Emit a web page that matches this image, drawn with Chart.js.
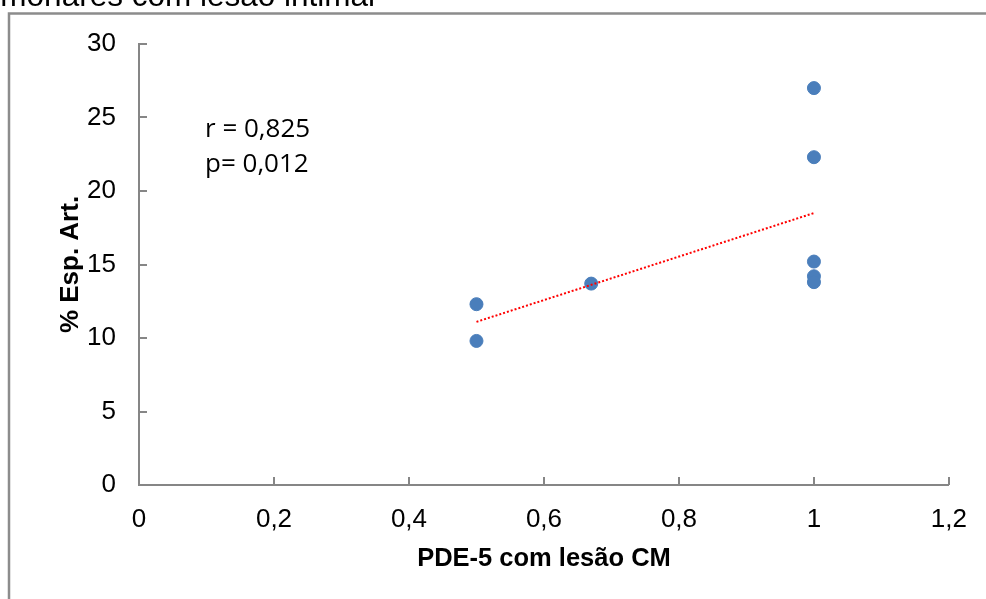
<!DOCTYPE html>
<html>
<head>
<meta charset="utf-8">
<script src="https://cdn.jsdelivr.net/npm/chart.js@4"></script>
<style>
html,body{margin:0;padding:0;background:#fff;}
#wrap{width:986px;height:599px;position:relative;}
</style>
</head>
<body>
<div id="wrap"><canvas id="c" width="986" height="599"></canvas></div>
<script>
const xValues = [0.5, 0.5, 0.67, 1, 1, 1, 1, 1];
const yValues = [12.3, 9.8, 13.7, 27.0, 22.3, 15.2, 14.2, 13.8];
const trendX = [0.5, 1];
const trendY = [11.1, 18.5];
const xTickLabels = ['0', '0,2', '0,4', '0,6', '0,8', '1', '1,2'];
const yTickLabels = ['0', '5', '10', '15', '20', '25', '30'];
const xTitle = 'PDE-5 com lesão CM';
const yTitle = '% Esp. Art.';
const annotLines = ['r = 0,825', 'p= 0,012'];
const headerText = 'monares com lesão intimal';

const AXIS = '#868686';

const decor = {
  id: 'decor',
  beforeDraw(chart) {
    const ctx = chart.ctx;
    ctx.save();
    ctx.fillStyle = '#fff';
    ctx.fillRect(0, 0, chart.width, chart.height);
    // outer frame
    ctx.strokeStyle = '#8c8c8c';
    ctx.lineWidth = 2.5;
    ctx.beginPath();
    ctx.moveTo(9, 700);
    ctx.lineTo(9, 13.5);
    ctx.lineTo(1100, 13.5);
    ctx.stroke();
    // cut-off header text
    ctx.fillStyle = '#000';
    ctx.font = '31.5px "Liberation Sans", Arial, sans-serif';
    ctx.textAlign = 'right';
    ctx.textBaseline = 'alphabetic';
    ctx.fillText(headerText, 375, 6);
    ctx.restore();
  },
  afterDatasetsDraw(chart) {
    const ctx = chart.ctx;
    const xs = chart.scales.x, ys = chart.scales.y;
    ctx.save();
    ctx.strokeStyle = AXIS;
    ctx.lineWidth = 2;
    const x0 = xs.getPixelForValue(0);
    const y0 = ys.getPixelForValue(0);
    ctx.beginPath();
    ys.ticks.forEach(t => {
      const py = Math.round(ys.getPixelForValue(t.value));
      ctx.moveTo(x0, py);
      ctx.lineTo(x0 + 8, py);
    });
    xs.ticks.forEach(t => {
      const px = Math.round(xs.getPixelForValue(t.value));
      ctx.moveTo(px, y0);
      ctx.lineTo(px, y0 - 8);
    });
    ctx.stroke();
    // annotation text
    ctx.fillStyle = '#000';
    ctx.font = '26px "Open Sans", Calibri, Carlito, sans-serif';
    ctx.textAlign = 'left';
    ctx.textBaseline = 'alphabetic';
    ctx.fillText(annotLines[0], 205, 137);
    ctx.fillText(annotLines[1], 205, 172);
    ctx.restore();
  }
};

new Chart(document.getElementById('c'), {
  type: 'scatter',
  data: {
    datasets: [
      {
        label: 'pontos',
        data: xValues.map((x, i) => ({x: x, y: yValues[i]})),
        backgroundColor: '#4A7EBB',
        borderColor: '#4A7EBB',
        pointRadius: 6.5,
        pointHoverRadius: 6.5,
        order: 1
      },
      {
        label: 'tendência',
        type: 'line',
        data: trendX.map((x, i) => ({x: x, y: trendY[i]})),
        borderColor: '#FF0000',
        borderWidth: 2,
        borderDash: [2, 2],
        pointRadius: 0,
        fill: false,
        order: 0
      }
    ]
  },
  options: {
    responsive: false,
    animation: false,
    events: [],
    layout: { padding: { top: 44, right: 37, left: 0, bottom: 0 } },
    plugins: { legend: { display: false }, tooltip: { enabled: false }, title: { display: false } },
    scales: {
      x: {
        type: 'linear',
        min: 0, max: 1.2,
        afterFit(s) { s.height = 114; },
        afterBuildTicks(s) { s.ticks = xTickLabels.map((l, i) => ({value: Math.round(i * 2) / 10})); },
        grid: { display: false, drawTicks: false },
        border: { display: true, color: AXIS, width: 2 },
        ticks: {
          padding: 19,
          color: '#000',
          font: { family: '"Liberation Sans", Arial, sans-serif', size: 26 },
          callback: (v, i) => xTickLabels[i]
        },
        title: {
          display: true, text: xTitle, color: '#000',
          font: { family: '"Liberation Sans", Arial, sans-serif', size: 25.5, weight: 'bold' },
          padding: { top: 0, bottom: 25 }
        }
      },
      y: {
        type: 'linear',
        min: 0, max: 30,
        afterFit(s) { s.width = 139; },
        afterBuildTicks(s) { s.ticks = yTickLabels.map((l, i) => ({value: i * 5})); },
        grid: { display: false, drawTicks: false },
        border: { display: true, color: AXIS, width: 2 },
        ticks: {
          padding: 23,
          color: '#000',
          font: { family: '"Liberation Sans", Arial, sans-serif', size: 26 },
          callback: (v, i) => yTickLabels[i]
        },
        title: {
          display: true, text: yTitle, color: '#000',
          font: { family: '"Liberation Sans", Arial, sans-serif', size: 26, weight: 'bold' },
          padding: { top: 55, bottom: 0 }
        }
      }
    }
  },
  plugins: [decor]
});
</script>
</body>
</html>
